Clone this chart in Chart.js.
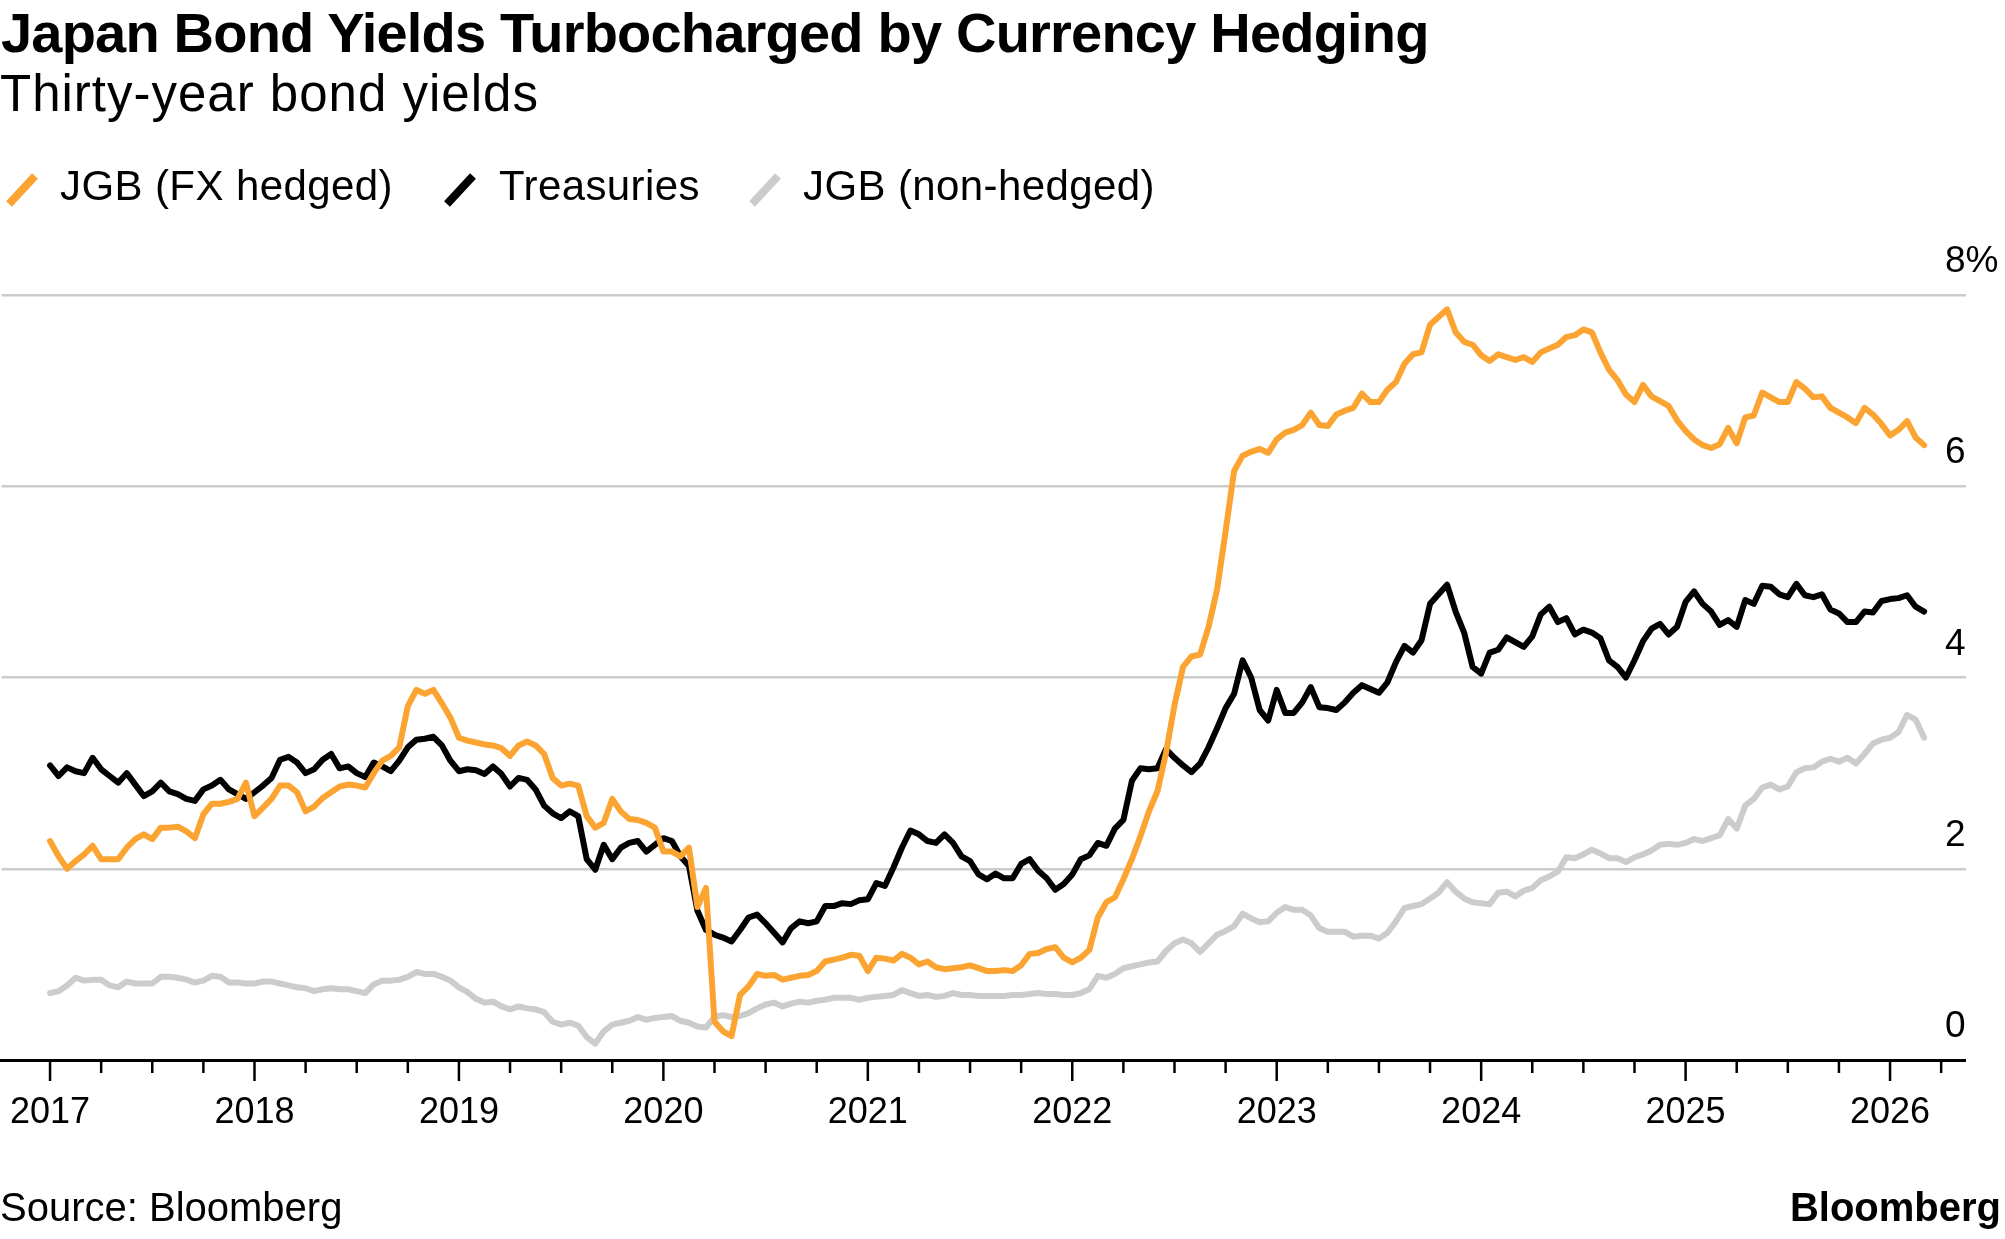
<!DOCTYPE html>
<html>
<head>
<meta charset="utf-8">
<script src="https://cdn.jsdelivr.net/npm/chart.js@4.4.1/dist/chart.umd.min.js"></script>
<style>
  html, body { margin:0; padding:0; background:#fff; }
  body { width:2005px; height:1239px; position:relative; overflow:hidden; font-family:'Liberation Sans', Arial, Helvetica, sans-serif; color:#000; }
  .t { position:absolute; white-space:nowrap; line-height:1; }
  #title { left:1px; top:5px; font-size:56px; font-weight:bold; letter-spacing:-0.8px; }
  #subtitle { left:0px; top:68px; font-size:51px; letter-spacing:1px; }
  .leg { top:165px; font-size:42px; letter-spacing:0.4px; }
  .mark { position:absolute; top:173px; }
  #source { left:0px; top:1187px; font-size:40px; }
  #logo { right:4px; top:1187px; font-size:40px; font-weight:bold; }
  canvas { position:absolute; left:0; top:0; }
</style>
</head>
<body>
<canvas id="c" width="2005" height="1239"></canvas>
<div class="t" id="title">Japan Bond Yields Turbocharged by Currency Hedging</div>
<div class="t" id="subtitle">Thirty-year bond yields</div>

<svg class="mark" style="left:3px" width="38" height="34"><line x1="6" y1="31" x2="32" y2="3" stroke="#fba432" stroke-width="8"/></svg>
<div class="t leg" style="left:60px">JGB (FX hedged)</div>
<svg class="mark" style="left:441px" width="38" height="34"><line x1="6" y1="31" x2="32" y2="3" stroke="#000000" stroke-width="8"/></svg>
<div class="t leg" style="left:499px">Treasuries</div>
<svg class="mark" style="left:746px" width="38" height="34"><line x1="6" y1="31" x2="32" y2="3" stroke="#cccccc" stroke-width="8"/></svg>
<div class="t leg" style="left:803px">JGB (non-hedged)</div>

<div class="t" id="source">Source: Bloomberg</div>
<div class="t" id="logo">Bloomberg</div>

<script>
// ---- data: semi-monthly observations starting Jan 2017 ----
const startYear = 2017;
const stepsPerYear = 24;

const jgbHedged = [
  2.29, 2.13, 2.00, 2.08, 2.15, 2.24, 2.10, 2.10, 2.10, 2.22,
  2.31, 2.36, 2.31, 2.43, 2.43, 2.44, 2.39, 2.32, 2.57, 2.68,
  2.68, 2.70, 2.73, 2.90, 2.55, 2.64, 2.73, 2.87, 2.87, 2.80,
  2.60, 2.65, 2.74, 2.80, 2.86, 2.88, 2.87, 2.85, 3.00, 3.13,
  3.18, 3.27, 3.70, 3.87, 3.83, 3.87, 3.73, 3.58, 3.37, 3.34,
  3.32, 3.30, 3.29, 3.26, 3.18, 3.29, 3.33, 3.29, 3.20, 2.95,
  2.87, 2.89, 2.87, 2.55, 2.43, 2.48, 2.73, 2.60, 2.52, 2.51,
  2.48, 2.43, 2.18, 2.18, 2.13, 2.22, 1.60, 1.80, 0.40, 0.30,
  0.25, 0.68, 0.77, 0.90, 0.88, 0.89, 0.84, 0.86, 0.88, 0.89,
  0.93, 1.03, 1.05, 1.07, 1.10, 1.09, 0.93, 1.07, 1.06, 1.04,
  1.11, 1.07, 1.00, 1.03, 0.97, 0.95, 0.96, 0.97, 0.99, 0.96,
  0.93, 0.93, 0.94, 0.93, 0.99, 1.11, 1.12, 1.16, 1.18, 1.07,
  1.02, 1.07, 1.15, 1.49, 1.65, 1.70, 1.89, 2.10, 2.34, 2.60,
  2.81, 3.21, 3.71, 4.11, 4.22, 4.24, 4.53, 4.92, 5.53, 6.16,
  6.32, 6.36, 6.39, 6.35, 6.49, 6.56, 6.59, 6.64, 6.77, 6.64,
  6.63, 6.75, 6.79, 6.82, 6.97, 6.88, 6.88, 7.01, 7.09, 7.28,
  7.38, 7.40, 7.69, 7.77, 7.85, 7.61, 7.51, 7.48, 7.37, 7.31,
  7.38, 7.35, 7.32, 7.35, 7.30, 7.40, 7.44, 7.48, 7.56, 7.58,
  7.64, 7.61, 7.40, 7.22, 7.11, 6.96, 6.88, 7.06, 6.94, 6.89,
  6.84, 6.69, 6.58, 6.49, 6.43, 6.40, 6.44, 6.61, 6.45, 6.72,
  6.74, 6.98, 6.93, 6.88, 6.88, 7.09, 7.02, 6.93, 6.94, 6.82,
  6.77, 6.72, 6.66, 6.82, 6.75, 6.65, 6.53, 6.59, 6.68, 6.51, 6.43
];

const treasuries = [
  3.08, 2.97, 3.06, 3.02, 3.00, 3.16, 3.04, 2.97, 2.90, 3.00,
  2.88, 2.76, 2.81, 2.90, 2.81, 2.78, 2.73, 2.71, 2.83, 2.87,
  2.93, 2.83, 2.78, 2.73, 2.80, 2.87, 2.95, 3.14, 3.17, 3.11,
  3.00, 3.04, 3.14, 3.20, 3.05, 3.07, 3.00, 2.96, 3.11, 3.07,
  3.02, 3.13, 3.27, 3.35, 3.36, 3.38, 3.29, 3.13, 3.02, 3.04,
  3.03, 2.99, 3.07, 2.99, 2.86, 2.95, 2.93, 2.83, 2.66, 2.58,
  2.53, 2.60, 2.55, 2.10, 1.99, 2.25, 2.10, 2.22, 2.27, 2.29,
  2.18, 2.25, 2.32, 2.29, 2.13, 2.03, 1.56, 1.36, 1.31, 1.28,
  1.24, 1.36, 1.49, 1.52, 1.43, 1.33, 1.23, 1.38, 1.45, 1.43,
  1.45, 1.61, 1.61, 1.64, 1.63, 1.67, 1.68, 1.85, 1.82, 2.01,
  2.22, 2.40, 2.36, 2.29, 2.27, 2.36, 2.27, 2.13, 2.08, 1.94,
  1.89, 1.95, 1.90, 1.90, 2.05, 2.10, 1.98, 1.90, 1.78, 1.84,
  1.94, 2.10, 2.14, 2.27, 2.24, 2.42, 2.51, 2.92, 3.05, 3.04,
  3.05, 3.25, 3.16, 3.08, 3.01, 3.10, 3.27, 3.47, 3.68, 3.83,
  4.18, 4.00, 3.66, 3.55, 3.87, 3.63, 3.63, 3.74, 3.90, 3.69,
  3.68, 3.66, 3.74, 3.84, 3.92, 3.88, 3.84, 3.95, 4.16, 4.33,
  4.26, 4.39, 4.77, 4.87, 4.97, 4.69, 4.47, 4.11, 4.04, 4.26,
  4.29, 4.42, 4.37, 4.32, 4.43, 4.66, 4.74, 4.58, 4.62, 4.45,
  4.50, 4.47, 4.41, 4.18, 4.11, 4.00, 4.18, 4.38, 4.51, 4.56,
  4.45, 4.53, 4.79, 4.90, 4.77, 4.69, 4.55, 4.60, 4.53, 4.81,
  4.77, 4.96, 4.95, 4.87, 4.84, 4.98, 4.86, 4.84, 4.87, 4.71,
  4.67, 4.58, 4.58, 4.69, 4.68, 4.80, 4.82, 4.83, 4.86, 4.74, 4.69
];

const jgbUnhedged = [
  0.70, 0.72, 0.78, 0.86, 0.83, 0.84, 0.84, 0.78, 0.76, 0.82,
  0.80, 0.80, 0.80, 0.87, 0.87, 0.86, 0.84, 0.81, 0.83, 0.88,
  0.87, 0.81, 0.81, 0.80, 0.80, 0.82, 0.82, 0.80, 0.78, 0.76,
  0.75, 0.72, 0.74, 0.75, 0.74, 0.74, 0.72, 0.70, 0.79, 0.83,
  0.83, 0.84, 0.87, 0.92, 0.90, 0.90, 0.87, 0.83, 0.76, 0.71,
  0.64, 0.60, 0.61, 0.56, 0.53, 0.56, 0.54, 0.53, 0.50, 0.40,
  0.37, 0.39, 0.36, 0.24, 0.17, 0.30, 0.37, 0.39, 0.41, 0.45,
  0.42, 0.44, 0.45, 0.46, 0.41, 0.39, 0.35, 0.34, 0.45, 0.47,
  0.45, 0.46, 0.49, 0.54, 0.58, 0.60, 0.56, 0.59, 0.61, 0.60,
  0.62, 0.63, 0.65, 0.65, 0.65, 0.63, 0.65, 0.66, 0.67, 0.68,
  0.73, 0.70, 0.67, 0.68, 0.66, 0.67, 0.70, 0.68, 0.68, 0.67,
  0.67, 0.67, 0.67, 0.68, 0.68, 0.69, 0.70, 0.69, 0.69, 0.68,
  0.68, 0.70, 0.74, 0.88, 0.86, 0.90, 0.96, 0.98, 1.00, 1.02,
  1.03, 1.14, 1.22, 1.26, 1.22, 1.13, 1.22, 1.31, 1.35, 1.40,
  1.53, 1.48, 1.44, 1.45, 1.54, 1.60, 1.57, 1.57, 1.51, 1.38,
  1.34, 1.34, 1.34, 1.29, 1.30, 1.30, 1.27, 1.33, 1.45, 1.59,
  1.61, 1.63, 1.69, 1.75, 1.86, 1.76, 1.69, 1.65, 1.64, 1.63,
  1.75, 1.76, 1.71, 1.77, 1.80, 1.88, 1.92, 1.97, 2.12, 2.11,
  2.15, 2.20, 2.16, 2.11, 2.11, 2.07, 2.12, 2.15, 2.19, 2.25,
  2.26, 2.25, 2.27, 2.31, 2.29, 2.32, 2.35, 2.52, 2.42, 2.66,
  2.73, 2.85, 2.88, 2.83, 2.86, 3.01, 3.05, 3.06, 3.12, 3.15,
  3.12, 3.16, 3.10, 3.20, 3.31, 3.35, 3.37, 3.43, 3.61, 3.56, 3.37
];

const dates = jgbHedged.map((_, i) => startYear + i / stepsPerYear);

const yearTicks = [2017, 2018, 2019, 2020, 2021, 2022, 2023, 2024, 2025, 2026];
const yTicks = [0, 2, 4, 6, 8];

const FONT = "'Liberation Sans', Arial, Helvetica, sans-serif";
const toPoints = arr => arr.map((v, i) => ({ x: dates[i], y: v }));

const xMin = 2016.7625, xMax = 2026.2688;
const quarterTicks = [];
yearTicks.forEach(y => { [0, 0.25, 0.5, 0.75].forEach(q => { if (y + q <= xMax) quarterTicks.push(y + q); }); });

const xTickPlugin = {
  id: 'xTickMarks',
  afterDraw(chart) {
    const xs = chart.scales.x;
    const ctx = chart.ctx;
    ctx.save();
    ctx.strokeStyle = '#000';
    ctx.lineWidth = 2.5;
    xs.ticks.forEach(t => {
      if (t.value < xs.min || t.value > xs.max) return;
      const px = xs.getPixelForValue(t.value);
      const major = Number.isInteger(t.value);
      ctx.beginPath();
      ctx.moveTo(px, xs.top);
      ctx.lineTo(px, xs.top + (major ? 21 : 13));
      ctx.stroke();
    });
    ctx.restore();
  }
};

new Chart(document.getElementById('c'), {
  type: 'line',
  data: {
    datasets: [
      { label: 'JGB (FX hedged)', data: toPoints(jgbHedged), borderColor: '#fba432', borderWidth: 6 },
      { label: 'Treasuries', data: toPoints(treasuries), borderColor: '#000000', borderWidth: 6 },
      { label: 'JGB (non-hedged)', data: toPoints(jgbUnhedged), borderColor: '#cccccc', borderWidth: 6 }
    ]
  },
  options: {
    responsive: false,
    animation: false,
    devicePixelRatio: 1,
    layout: { padding: { top: 295, left: 0, right: 0, bottom: 109 } },
    elements: {
      point: { radius: 0 },
      line: { tension: 0, borderJoinStyle: 'round', borderCapStyle: 'round', fill: false }
    },
    plugins: { legend: { display: false }, tooltip: { enabled: false }, title: { display: false } },
    scales: {
      x: {
        type: 'linear',
        min: xMin,
        max: xMax,
        afterBuildTicks: s => { s.ticks = quarterTicks.map(v => ({ value: v })); },
        afterFit: s => { s.height = 70; },
        grid: { display: true, drawOnChartArea: false, drawTicks: true, tickLength: 21, tickColor: 'rgba(0,0,0,0)' },
        border: { display: true, color: '#000', width: 3 },
        ticks: {
          autoSkip: false, maxRotation: 0, minRotation: 0, padding: 10,
          color: '#000', font: { family: FONT, size: 36 },
          callback: v => (Number.isInteger(v) && yearTicks.includes(v)) ? String(v) : ''
        }
      },
      y: {
        position: 'right',
        min: 0,
        max: 8,
        afterBuildTicks: s => { s.ticks = yTicks.map(v => ({ value: v })); },
        afterFit: s => { s.width = 60; },
        grid: {
          drawTicks: true, tickLength: 21,
          lineWidth: c => (c.tick && c.tick.value === 0) ? 3 : 2.5,
          color: c => (c.tick && c.tick.value === 0) ? '#000000' : '#cccccc'
        },
        border: { display: false },
        ticks: {
          autoSkip: false, padding: -21, labelOffset: -33,
          color: '#000', font: { family: FONT, size: 37 },
          callback: v => v === 8 ? '8%' : String(v)
        }
      }
    }
  },
  plugins: [xTickPlugin]
});
</script>
</body>
</html>
